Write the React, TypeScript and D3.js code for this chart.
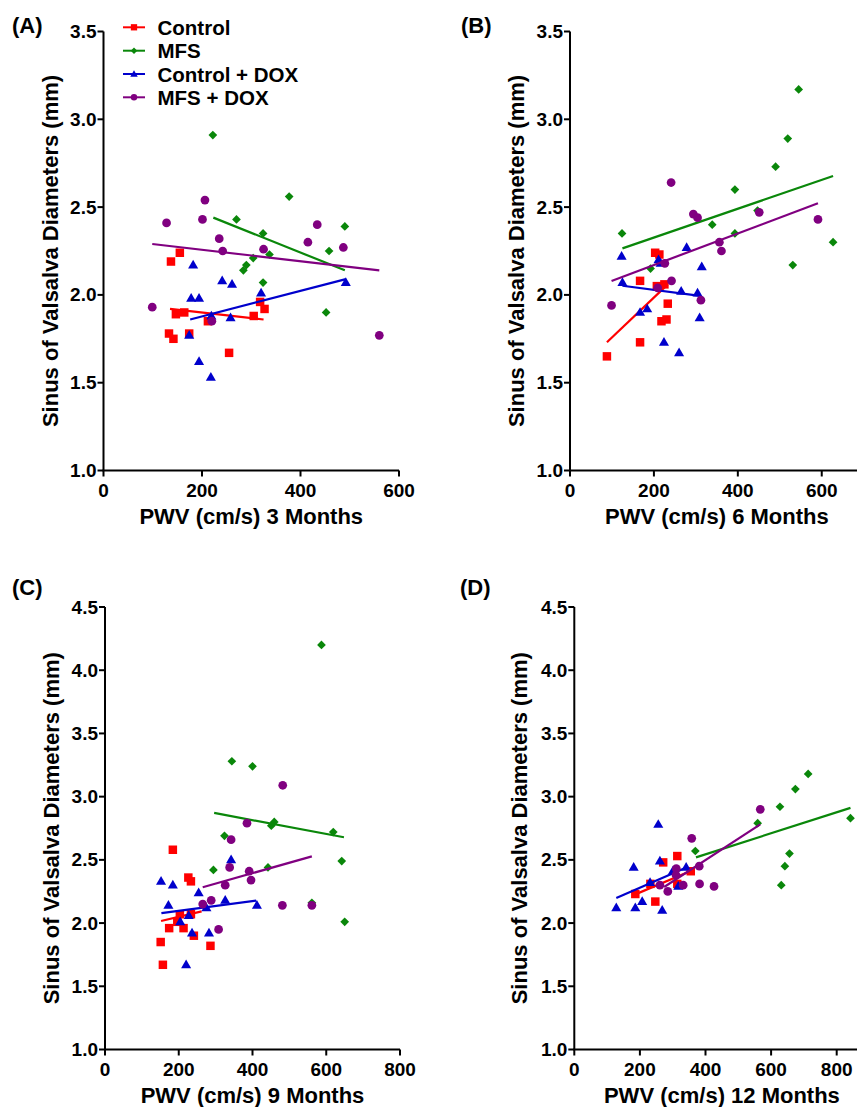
import React from "react";
import * as d3 from "d3";

// ---------- DATA ----------
const seriesNames = ["Control", "MFS", "Control + DOX", "MFS + DOX"];
const seriesColors = ["#ff0000", "#0a870a", "#0000cc", "#800080"];
const seriesShapes = ["square", "diamond", "triangle", "circle"];

const panelLabels = ["(A)", "(B)", "(C)", "(D)"];
const xTitles = ["PWV (cm/s) 3 Months", "PWV (cm/s) 6 Months", "PWV (cm/s) 9 Months", "PWV (cm/s) 12 Months"];
const yTitle = "Sinus of Valsalva Diameters (mm)";
const yTicksAB = [1.0, 1.5, 2.0, 2.5, 3.0, 3.5];
const yTicksCD = [1.0, 1.5, 2.0, 2.5, 3.0, 3.5, 4.0, 4.5];
const xTicksAB = [0, 200, 400, 600];
const xTicksCD = [0, 200, 400, 600, 800];

// Panel A (3 months)
const ctrlA_x = [155, 137, 147, 164, 318, 327, 305, 212, 133, 142, 174, 255];
const ctrlA_y = [2.24, 2.19, 1.89, 1.90, 1.96, 1.92, 1.88, 1.85, 1.78, 1.75, 1.78, 1.67];
const mfsA_x = [222, 377, 270, 324, 490, 458, 337, 304, 290, 284, 324, 452];
const mfsA_y = [2.91, 2.56, 2.43, 2.35, 2.39, 2.25, 2.23, 2.21, 2.17, 2.14, 2.07, 1.90];
const ctrlDoxA_x = [182, 241, 261, 320, 492, 178, 194, 219, 258, 174, 194, 218];
const ctrlDoxA_y = [2.17, 2.08, 2.06, 2.01, 2.07, 1.98, 1.98, 1.88, 1.87, 1.77, 1.62, 1.53];
const mfsDoxA_x = [206, 128, 201, 434, 235, 415, 487, 242, 325, 99, 220, 560];
const mfsDoxA_y = [2.54, 2.41, 2.43, 2.40, 2.32, 2.30, 2.27, 2.25, 2.26, 1.93, 1.85, 1.77];
const fitA = [
  [135, 1.92, 325, 1.86],
  [223, 2.44, 490, 2.14],
  [176, 1.86, 492, 2.09],
  [99, 2.29, 560, 2.14],
];

// Panel B (6 months)
const ctrlB_x = [203, 213, 167, 207, 225, 233, 218, 230, 167, 88];
const ctrlB_y = [2.24, 2.23, 2.08, 2.05, 2.06, 1.95, 1.85, 1.86, 1.73, 1.65];
const mfsB_x = [545, 519, 490, 393, 447, 339, 393, 124, 627, 531, 192];
const mfsB_y = [3.17, 2.89, 2.73, 2.60, 2.48, 2.40, 2.35, 2.35, 2.30, 2.17, 2.15];
const ctrlDoxB_x = [123, 278, 211, 216, 314, 125, 265, 304, 184, 167, 309, 224, 260];
const ctrlDoxB_y = [2.22, 2.27, 2.20, 2.18, 2.16, 2.07, 2.02, 2.01, 1.92, 1.90, 1.87, 1.73, 1.67];
const mfsDoxB_x = [241, 294, 304, 451, 591, 356, 361, 226, 242, 312, 99, 209];
const mfsDoxB_y = [2.64, 2.46, 2.44, 2.47, 2.43, 2.30, 2.25, 2.18, 2.08, 1.97, 1.94, 2.04];
const fitB = [
  [88, 1.73, 233, 2.06],
  [125, 2.265, 627, 2.677],
  [125, 2.052, 310, 1.994],
  [99, 2.079, 591, 2.522],
];

// Panel C (9 months)
const ctrlC_x = [184, 226, 233, 203, 233, 196, 174, 213, 241, 151, 286, 157];
const ctrlC_y = [2.58, 2.36, 2.33, 2.07, 2.07, 2.01, 1.96, 1.96, 1.90, 1.85, 1.82, 1.67];
const mfsC_x = [587, 344, 400, 459, 451, 619, 324, 642, 294, 442, 561, 650];
const mfsC_y = [4.20, 3.28, 3.24, 2.80, 2.77, 2.72, 2.69, 2.49, 2.42, 2.44, 2.16, 2.01];
const ctrlDoxC_x = [342, 152, 184, 254, 326, 172, 412, 275, 227, 204, 236, 282, 220];
const ctrlDoxC_y = [2.50, 2.33, 2.30, 2.24, 2.18, 2.14, 2.14, 2.12, 2.06, 2.01, 1.92, 1.92, 1.67];
const mfsDoxC_x = [482, 385, 342, 338, 391, 326, 396, 288, 265, 481, 561, 308];
const mfsDoxC_y = [3.09, 2.79, 2.66, 2.44, 2.41, 2.30, 2.34, 2.18, 2.15, 2.14, 2.14, 1.95];
const fitC = [
  [152, 2.016, 262, 2.093],
  [296, 2.871, 648, 2.679],
  [153, 2.079, 410, 2.177],
  [265, 2.283, 561, 2.528],
];

// Panel D (12 months)
const ctrlD_x = [314, 271, 355, 232, 314, 186, 247];
const ctrlD_y = [2.53, 2.48, 2.41, 2.31, 2.31, 2.23, 2.17];
const mfsD_x = [713, 674, 627, 842, 559, 369, 656, 642, 631];
const mfsD_y = [3.18, 3.06, 2.92, 2.83, 2.79, 2.57, 2.55, 2.45, 2.30];
const ctrlDoxD_x = [256, 261, 181, 341, 300, 231, 317, 207, 128, 186, 268];
const ctrlDoxD_y = [2.78, 2.49, 2.44, 2.44, 2.41, 2.32, 2.29, 2.17, 2.12, 2.12, 2.10];
const mfsDoxD_x = [567, 358, 381, 311, 310, 382, 426, 332, 261, 285];
const mfsDoxD_y = [2.90, 2.67, 2.45, 2.43, 2.38, 2.31, 2.29, 2.30, 2.30, 2.25];
const fitD = [
  [186, 2.227, 355, 2.412],
  [371, 2.52, 842, 2.911],
  [128, 2.198, 345, 2.443],
  [274, 2.285, 567, 2.781],
];

// ---------- LAYOUT ----------
const FONT = "'Liberation Sans', Arial, sans-serif";

type Panel = {
  label: string;
  xTitle: string;
  xDomain: [number, number];
  xRange: [number, number];
  yDomain: [number, number];
  yRange: [number, number];
  xTicks: number[];
  yTicks: number[];
  xs: number[][];
  ys: number[][];
  fits: number[][];
  labelPos: [number, number];
  yTitleX: number;
};

const panels: Panel[] = [
  {
    label: panelLabels[0], xTitle: xTitles[0],
    xDomain: [0, 600], xRange: [103.5, 399], yDomain: [1, 3.5], yRange: [470.5, 31.5],
    xTicks: xTicksAB, yTicks: yTicksAB,
    xs: [ctrlA_x, mfsA_x, ctrlDoxA_x, mfsDoxA_x], ys: [ctrlA_y, mfsA_y, ctrlDoxA_y, mfsDoxA_y],
    fits: fitA, labelPos: [12, 33], yTitleX: 57.5,
  },
  {
    label: panelLabels[1], xTitle: xTitles[1],
    xDomain: [0, 700], xRange: [570, 863.7], yDomain: [1, 3.5], yRange: [470.5, 31.5],
    xTicks: xTicksAB, yTicks: yTicksAB,
    xs: [ctrlB_x, mfsB_x, ctrlDoxB_x, mfsDoxB_x], ys: [ctrlB_y, mfsB_y, ctrlDoxB_y, mfsDoxB_y],
    fits: fitB, labelPos: [461, 33], yTitleX: 524,
  },
  {
    label: panelLabels[2], xTitle: xTitles[2],
    xDomain: [0, 800], xRange: [105, 400], yDomain: [1, 4.5], yRange: [1049.5, 607],
    xTicks: xTicksCD, yTicks: yTicksCD,
    xs: [ctrlC_x, mfsC_x, ctrlDoxC_x, mfsDoxC_x], ys: [ctrlC_y, mfsC_y, ctrlDoxC_y, mfsDoxC_y],
    fits: fitC, labelPos: [12, 595], yTitleX: 58.5,
  },
  {
    label: panelLabels[3], xTitle: xTitles[3],
    xDomain: [0, 900], xRange: [574.3, 869.5], yDomain: [1, 4.5], yRange: [1049.5, 607],
    xTicks: xTicksCD, yTicks: yTicksCD,
    xs: [ctrlD_x, mfsD_x, ctrlDoxD_x, mfsDoxD_x], ys: [ctrlD_y, mfsD_y, ctrlDoxD_y, mfsDoxD_y],
    fits: fitD, labelPos: [460, 595], yTitleX: 527,
  },
];

function markerPath(shape: string, scale = 1): string {
  if (shape === "square") return d3.symbol(d3.symbolSquare, 72 * scale)()!;
  if (shape === "diamond") return d3.symbol(d3.symbolSquare, 38 * scale)()!;
  if (shape === "triangle") return d3.symbol(d3.symbolTriangle, 44 * scale)()!;
  return d3.symbol(d3.symbolCircle, 60 * scale)()!;
}

function Marker({ shape, color, x, y, scale = 1 }: { shape: string; color: string; x: number; y: number; scale?: number }) {
  const rot = shape === "diamond" ? " rotate(45)" : "";
  const dy = shape === "triangle" ? 0.5 : 0;
  return <path d={markerPath(shape, scale)} fill={color} transform={`translate(${x},${y + dy})${rot}`} />;
}

function PanelView({ p }: { p: Panel }) {
  const x = d3.scaleLinear().domain(p.xDomain).range(p.xRange);
  const y = d3.scaleLinear().domain(p.yDomain).range(p.yRange);
  const x0 = p.xRange[0];
  const y0 = p.yRange[0];
  const yMid = (p.yRange[0] + p.yRange[1]) / 2;
  const xMid = (p.xRange[0] + p.xRange[1]) / 2;
  return (
    <g>
      <text x={p.labelPos[0]} y={p.labelPos[1]} fontSize={22} fontWeight="bold" fontFamily={FONT}>{p.label}</text>
      {/* axes */}
      <line x1={x0} x2={x0} y1={p.yRange[1]} y2={y0} stroke="#000" strokeWidth={2} />
      <line x1={x0 - 1} x2={p.xRange[1]} y1={y0} y2={y0} stroke="#000" strokeWidth={2} />
      {p.yTicks.map((t) => (
        <g key={"y" + t}>
          <line x1={x0 - 6} x2={x0} y1={y(t)} y2={y(t)} stroke="#000" strokeWidth={2} />
          <text x={x0 - 7} y={y(t) + 6.5} textAnchor="end" fontSize={19} fontWeight="bold" fontFamily={FONT}>{t.toFixed(1)}</text>
        </g>
      ))}
      {p.xTicks.map((t) => (
        <g key={"x" + t}>
          <line x1={x(t)} x2={x(t)} y1={y0} y2={y0 + 6} stroke="#000" strokeWidth={2} />
          <text x={x(t)} y={y0 + 26.5} textAnchor="middle" fontSize={19} fontWeight="bold" fontFamily={FONT}>{t}</text>
        </g>
      ))}
      <text x={xMid} y={y0 + 53} textAnchor="middle" fontSize={22} fontWeight="bold" fontFamily={FONT}>{p.xTitle}</text>
      <text transform={`translate(${p.yTitleX},${yMid}) rotate(-90)`} textAnchor="middle" fontSize={22} fontWeight="bold" fontFamily={FONT}>{yTitle}</text>
      {/* series */}
      {p.xs.map((xs, si) => (
        <g key={"s" + si}>
          {xs.map((v, i) => (
            <Marker key={i} shape={seriesShapes[si]} color={seriesColors[si]} x={x(v)} y={y(p.ys[si][i])} />
          ))}
          <line
            x1={x(p.fits[si][0])} y1={y(p.fits[si][1])}
            x2={x(p.fits[si][2])} y2={y(p.fits[si][3])}
            stroke={seriesColors[si]} strokeWidth={2.2}
          />
        </g>
      ))}
    </g>
  );
}

function Legend() {
  const rowY = [27.3, 50.7, 74, 97.3];
  return (
    <g>
      {seriesNames.map((n, i) => (
        <g key={n}>
          <line x1={123} x2={145} y1={rowY[i]} y2={rowY[i]} stroke={seriesColors[i]} strokeWidth={2} />
          <Marker shape={seriesShapes[i]} color={seriesColors[i]} x={134} y={rowY[i]} scale={0.55} />
          <text x={157.5} y={rowY[i] + 7.5} fontSize={20.5} fontWeight="bold" fontFamily={FONT}>{n}</text>
        </g>
      ))}
    </g>
  );
}

export default function App() {
  return (
    <svg width={857} height={1107} style={{ position: "absolute", left: 0, top: 0, background: "#fff" }}>
      <rect width={857} height={1107} fill="#fff" />
      {panels.map((p) => (
        <PanelView key={p.label} p={p} />
      ))}
      <Legend />
    </svg>
  );
}
